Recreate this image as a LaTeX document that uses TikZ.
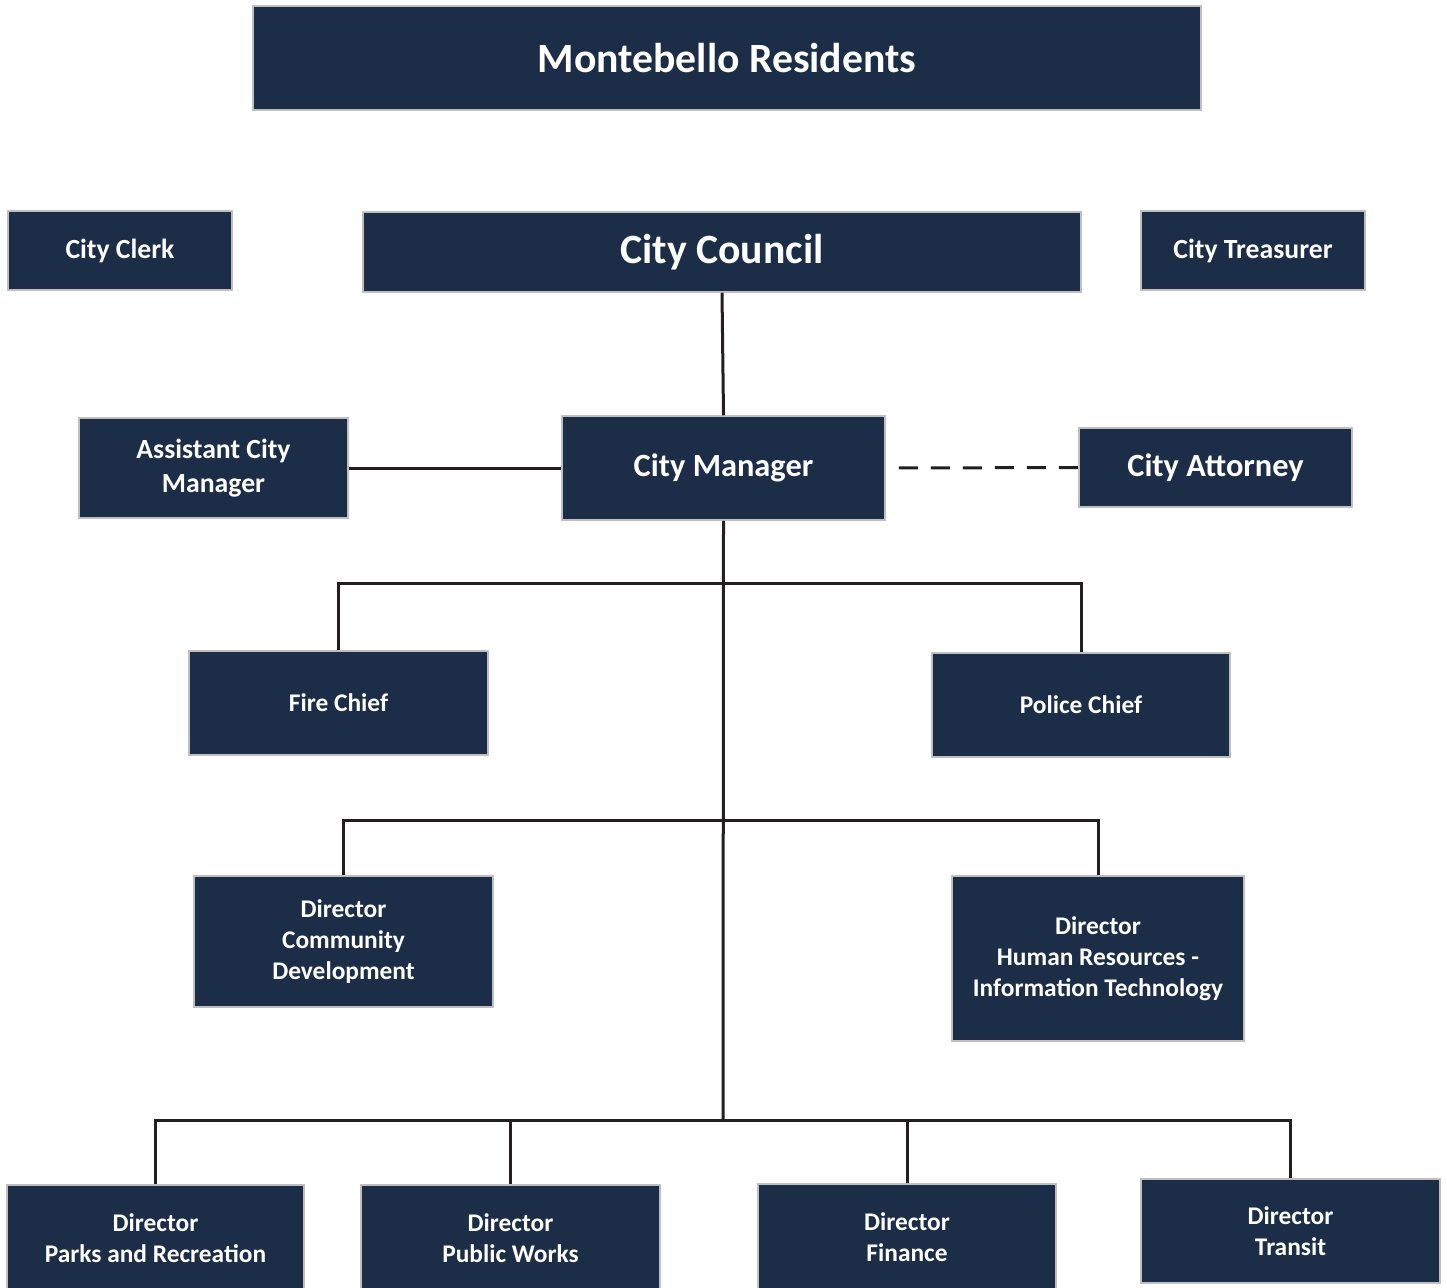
\documentclass[tikz,border=0pt]{standalone}
\usepackage{fontspec}
\setmainfont{Carlito}
\usepackage{tikz}

\definecolor{navy}{HTML}{1C2E47}
\definecolor{rim}{HTML}{BFBFBF}
\definecolor{wire}{HTML}{231F20}

\begin{document}
\begin{tikzpicture}[x=1pt, y=-1pt,
  box/.style={draw=rim, line width=1.5pt, fill=navy, text=white, align=center,
    inner sep=0pt, font=\bfseries},
  huge/.style={font=\fontsize{41.7}{48}\selectfont\bfseries},
  big/.style={font=\fontsize{32.4}{38}\selectfont\bfseries},
  mid/.style={font=\fontsize{27.7}{34}\selectfont\bfseries},
  sml/.style={font=\fontsize{25.4}{31}\selectfont\bfseries},
  link/.style={draw=wire, line width=3pt}]
\useasboundingbox (0,0) rectangle (1447,1287);
\clip (0,0) rectangle (1447,1287);

% top rows
\node[box, huge, minimum width=948, minimum height=104] (res) at (727,58) {Montebello Residents};
\node[box, mid, minimum width=224, minimum height=79] (clerk) at (120,250.5) {City Clerk};
\node[box, huge, minimum width=718, minimum height=80] (council) at (722,252) {City Council};
\node[box, mid, minimum width=224, minimum height=79] (treas) at (1253,250.5) {City Treasurer};

\node[box, mid, minimum width=269, minimum height=100] (asst) at (213.5,468) {Assistant City\\Manager};
\node[box, big, minimum width=323, minimum height=104] (mgr) at (723.5,468) {City Manager};
\node[box, big, minimum width=273, minimum height=79] (atty) at (1215.5,467.5) {City Attorney};

% departments
\node[box, sml, minimum width=299, minimum height=104] (fire) at (338.5,703) {Fire Chief};
\node[box, sml, minimum width=298, minimum height=104] (police) at (1081,705) {Police Chief};
\node[box, sml, minimum width=299, minimum height=131] (cdev) at (343.5,941.5) {Director\\Community\\Development};
\node[box, sml, minimum width=292, minimum height=165] (hrit) at (1098,958.5) {Director\\Human Resources -\\Information Technology};

\node[box, sml, minimum width=297, minimum height=106] (parks) at (155.5,1238) {Director\\Parks and Recreation};
\node[box, sml, minimum width=299, minimum height=106] (pw) at (510.5,1238) {Director\\Public Works};
\node[box, sml, minimum width=298, minimum height=106] (fin) at (907,1237) {Director\\Finance};
\node[box, sml, minimum width=299, minimum height=104] (transit) at (1290.5,1231) {Director\\Transit};

% bus points
\coordinate (busA) at (723,583);
\coordinate (busB) at (723,820);
\coordinate (busC) at (723,1120);

% connectors
\draw[link] (council.south) -- (mgr.north);
\draw[link] (asst.east) -- (mgr.west);
\draw[link, dash pattern=on 19pt off 13pt, dash phase=19pt] (mgr.east) -- (atty.west);
\draw[link] (mgr.south) -- (busC);
\draw[link] (fire.north) |- (busA) -| (police.north);
\draw[link] (cdev.north) |- (busB) -| (hrit.north);
\draw[link] (parks.north) |- (busC) -| (transit.north);
\draw[link] (pw.north) -- (pw.north |- busC);
\draw[link] (fin.north) -- (fin.north |- busC);
\end{tikzpicture}
\end{document}
